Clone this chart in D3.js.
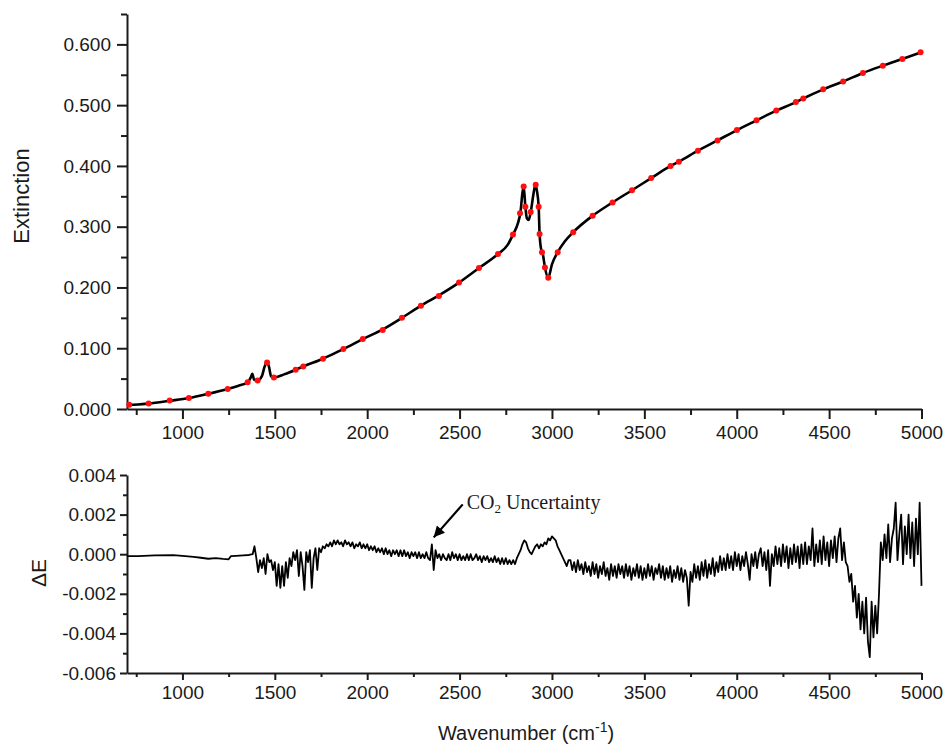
<!DOCTYPE html>
<html>
<head>
<meta charset="utf-8">
<script src="https://cdn.jsdelivr.net/npm/d3@7"></script>
<style>
  body { margin: 0; background: #fff; }
  svg text { font-family: 'Liberation Sans', Arial, sans-serif; fill: #1a1a1a; }
</style>
</head>
<body>
<svg id="chart"></svg>
<script>
// Extinction curve (top panel)
const extWave = [700, 760, 817, 931, 1035, 1140, 1245, 1300, 1353, 1370, 1378, 1388, 1407, 1430, 1445, 1458, 1468, 1480, 1495,
  1550, 1613, 1654, 1761, 1871, 1976, 2084, 2188, 2291, 2388, 2497, 2605, 2708, 2760, 2789, 2815, 2830, 2840, 2847, 2856,
  2864, 2874, 2885, 2898, 2910, 2918, 2928, 2933, 2942, 2950, 2962, 2980, 3000, 3031, 3070, 3115, 3220, 3328, 3433, 3537,
  3642, 3687, 3790, 3896, 4001, 4107, 4214, 4320, 4360, 4468, 4576, 4683, 4791, 4896, 5000];
const extValue = [0.0070, 0.0075, 0.0090, 0.0135, 0.0180, 0.0250, 0.0330, 0.0380, 0.0440, 0.0520, 0.0580, 0.0480, 0.0470,
  0.0540, 0.0700, 0.0770, 0.0700, 0.0540, 0.0520, 0.0570, 0.0646, 0.0700, 0.0827, 0.0987, 0.1150, 0.1310, 0.1500, 0.1700,
  0.1870, 0.2080, 0.2320, 0.2550, 0.2700, 0.2870, 0.3050, 0.3250, 0.3550, 0.3660, 0.3330, 0.3140, 0.3110, 0.3240, 0.3500,
  0.3690, 0.3600, 0.3330, 0.2880, 0.2620, 0.2560, 0.2330, 0.2160, 0.2380, 0.2580, 0.2760, 0.2910, 0.3180, 0.3400, 0.3600,
  0.3800, 0.4000, 0.4070, 0.4250, 0.4420, 0.4590, 0.4750, 0.4910, 0.5050, 0.5110, 0.5260, 0.5390, 0.5530, 0.5650, 0.5760,
  0.5870];

// Red sample points on the curve
const markerWave = [712, 817, 931, 1035, 1140, 1245, 1353, 1407, 1458, 1495, 1613, 1654, 1761, 1871, 1976, 2084, 2188,
  2291, 2388, 2497, 2605, 2708, 2789, 2827, 2847, 2856, 2885, 2912, 2928, 2933, 2946, 2962, 2980, 3031, 3115, 3220, 3328,
  3433, 3537, 3642, 3687, 3790, 3896, 4001, 4107, 4214, 4320, 4360, 4468, 4576, 4683, 4791, 4896, 4995];
const markerValue = [0.0071, 0.0092, 0.0140, 0.0180, 0.0250, 0.0330, 0.0440, 0.0470, 0.0767, 0.0520, 0.0646, 0.0700,
  0.0827, 0.0987, 0.1150, 0.1300, 0.1500, 0.1700, 0.1860, 0.2080, 0.2320, 0.2550, 0.2870, 0.3220, 0.3660, 0.3330, 0.3240,
  0.3690, 0.3330, 0.2880, 0.2580, 0.2330, 0.2160, 0.2580, 0.2910, 0.3180, 0.3400, 0.3600, 0.3800, 0.4000, 0.4070, 0.4250,
  0.4420, 0.4590, 0.4750, 0.4910, 0.5050, 0.5110, 0.5260, 0.5390, 0.5530, 0.5650, 0.5760, 0.5870];

// Residual (bottom panel), values in units of 1e-4
const resHeadWave = [700, 760, 850, 950, 1000, 1060, 1100, 1140, 1180, 1220, 1250, 1262, 1290, 1330, 1360, 1380, 1390];
const resHeadValue = [-1, -1, -0.6, -0.5, -0.8, -1.3, -1.8, -2.3, -2.0, -2.4, -2.6, -1.0, -0.8, -0.6, -0.4, 0, 4];
// from 1400 cm-1 on the spectrum is sampled every 10 cm-1, one row per 100 cm-1
const resGridStart = 1400;
const resGridStep = 10;
const resGridValue = [
  -2, -9, -3, -7, -2, -10, 0, -4, -3, -8,
  -4, -16, -5, -17, -6, -16, -4, -12, -2, -6,
  1, -3, 2, -11, 1, -6, -18, 1, -4, 2,
  -17, -2, 3, -8, 3, 1, 4, 3, 5, 4,
  6, 4, 7, 5, 7, 5, 6, 4, 7, 5,
  6, 4, 6, 3, 5, 4, 6, 3, 5, 3,
  5, 2, 4, 2, 4, 1, 3, 1, 3, 0,
  3, 0, 2, -1, 2, 0, 2, -1, 2, -1,
  2, -1, 1, -2, 1, -1, 1, -2, 1, -2,
  0, -2, 1, -2, -3, 5, -8, 2, -2, 0,
  -3, 0, -2, -3, 0, -3, 1, -2, 0, -3,
  0, -3, -1, -3, 0, -3, 0, -3, -2, 0,
  -3, -1, -4, -1, -3, -1, -4, -2, -4, -1,
  -4, -2, -5, -2, -5, -2, -5, -3, -5, -3,
  -5, -2, 0, 2, 5, 7, 6, 3, 1, 0,
  2, 4, 5, 3, 5, 4, 6, 5, 8, 7,
  9, 8, 7, 4, 2, 0, -2, -4, -6, -3,
  -3, -8, -4, -9, -3, -8, -5, -10, -4, -9,
  -6, -11, -4, -10, -5, -12, -6, -10, -4, -11,
  -7, -13, -5, -11, -6, -12, -5, -10, -6, -12,
  -5, -11, -6, -13, -7, -11, -5, -12, -6, -13,
  -7, -12, -5, -11, -6, -13, -7, -10, -5, -12,
  -6, -13, -7, -12, -6, -14, -8, -12, -6, -13,
  -7, -14, -8, -12, -26, -9, -14, -5, -12, -6,
  -13, -4, -11, -3, -12, -5, -10, -2, -11, -4,
  -9, -1, -8, -2, -8, 0, -7, -1, -8, 1,
  -6, 0, -8, -1, -6, 1, -5, -13, 0, -6,
  1, -7, 0, 3, -6, 1, -8, 2, -16, 0,
  -6, 4, -5, 3, -6, 5, -4, 4, -7, 3,
  -5, 5, -4, 4, -7, 5, -5, 6, -5, 4,
  -3, 13, -6, 5, -4, 7, -5, 9, -3, 6,
  -6, 7, -2, 9, -4, 8, 13, -3, 6, -4,
  -6, -14, -10, -24, -16, -32, -20, -38, -24, -40,
  -22, -44, -52, -24, -42, -26, -40, -20, 6, -3,
  10, -2, 15, -4, 8, 13, 26, -3, 10, 20,
  -5, 14, 0, 20, -2, 16, -6, 18, 0, 26,
  -16
];

// Axis ticks
const xMajorTicks = [1000, 1500, 2000, 2500, 3000, 3500, 4000, 4500, 5000];
const xMinorTicks = [750, 1250, 1750, 2250, 2750, 3250, 3750, 4250, 4750];
const topMajorTicks = [0, 0.1, 0.2, 0.3, 0.4, 0.5, 0.6];
const topMinorTicks = [0.05, 0.15, 0.25, 0.35, 0.45, 0.55, 0.65];
const bottomMajorTicks = [-0.006, -0.004, -0.002, 0, 0.002, 0.004];
const bottomMinorTicks = [-0.005, -0.003, -0.001, 0.001, 0.003];

const width = 948, height = 744;
const left = 127, right = 921.5;

const svg = d3.select('#chart')
    .attr('width', width)
    .attr('height', height);

const x = d3.scaleLinear().domain([700, 5000]).range([left, right]);
const yTop = d3.scaleLinear().domain([0, 0.65]).range([409, 14]);
const yBot = d3.scaleLinear().domain([-0.006, 0.004]).range([673, 475]);

const fmt = d => d.toFixed(3).replace('-0.000', '0.000');

// draws one panel's left + bottom axes (major and minor ticks)
function drawAxes(y, majors, minors, opt) {
  const yBase = y.range()[0];

  const gx = svg.append('g')
      .attr('transform', `translate(0,${yBase})`)
      .call(d3.axisBottom(x).tickValues(xMajorTicks).tickSize(opt.major).tickSizeOuter(0)
        .tickPadding(opt.xPad).tickFormat(d3.format('d')));
  const gxm = svg.append('g')
      .attr('transform', `translate(0,${yBase})`)
      .call(d3.axisBottom(x).tickValues(xMinorTicks).tickSize(opt.minor).tickFormat(''));
  gxm.select('.domain').remove();

  const gy = svg.append('g')
      .attr('transform', `translate(${left},0)`)
      .call(d3.axisLeft(y).tickValues(majors).tickSize(opt.major).tickSizeOuter(0)
        .tickPadding(opt.yPad).tickFormat(fmt));
  const gym = svg.append('g')
      .attr('transform', `translate(${left},0)`)
      .call(d3.axisLeft(y).tickValues(minors).tickSize(opt.minor).tickFormat(''));
  gym.select('.domain').remove();

  [gx, gxm, gy, gym].forEach(g => {
    g.selectAll('path, line')
        .attr('stroke', '#1a1a1a')
        .attr('stroke-width', 2);
    g.selectAll('text')
        .attr('fill', '#1a1a1a')
        .style('font-size', '19px')
        .style('font-family', "'Liberation Sans', Arial, sans-serif");
  });
}

drawAxes(yTop, topMajorTicks, topMinorTicks, { major: 10, minor: 6, xPad: 7, yPad: 6 });
drawAxes(yBot, bottomMajorTicks, bottomMinorTicks, { major: 7, minor: 4, xPad: 6, yPad: 4 });

// top: extinction curve + red sample points
const extData = extWave.map((w, i) => ({ w: w, v: extValue[i] }));
const markerData = markerWave.map((w, i) => ({ w: w, v: markerValue[i] }));

svg.append('path')
    .datum(extData)
    .attr('fill', 'none')
    .attr('stroke', '#000')
    .attr('stroke-width', 2.6)
    .attr('stroke-linejoin', 'round')
    .attr('d', d3.line().x(d => x(d.w)).y(d => yTop(d.v)).curve(d3.curveMonotoneX));

svg.selectAll('.marker')
    .data(markerData)
  .join('circle')
    .attr('class', 'marker')
    .attr('cx', d => x(d.w))
    .attr('cy', d => yTop(d.v))
    .attr('r', 3)
    .attr('fill', '#ff1010');

// bottom: residual
const resData = resHeadWave.map((w, i) => ({ w: w, v: resHeadValue[i] * 1e-4 }))
    .concat(resGridValue.map((v, i) => ({ w: resGridStart + i * resGridStep, v: v * 1e-4 })));

svg.append('path')
    .datum(resData)
    .attr('fill', 'none')
    .attr('stroke', '#000')
    .attr('stroke-width', 1.8)
    .attr('stroke-linejoin', 'round')
    .attr('d', d3.line().x(d => x(d.w)).y(d => yBot(d.v)));

// axis titles
svg.append('text')
    .attr('transform', 'translate(29,196) rotate(-90)')
    .attr('text-anchor', 'middle')
    .style('font-size', '22px')
    .text('Extinction');

svg.append('text')
    .attr('transform', 'translate(46,573) rotate(-90)')
    .attr('text-anchor', 'middle')
    .style('font-size', '21px')
    .text('\u0394E');

const xTitle = svg.append('text')
    .attr('x', 526)
    .attr('y', 740)
    .attr('text-anchor', 'middle')
    .style('font-size', '20px');
xTitle.append('tspan').text('Wavenumber (cm');
xTitle.append('tspan').attr('dy', -8).style('font-size', '14px').text('-1');
xTitle.append('tspan').attr('dy', 8).text(')');

// CO2 annotation
svg.append('defs').append('marker')
    .attr('id', 'arrowhead')
    .attr('viewBox', '0 0 10 10')
    .attr('refX', 10)
    .attr('refY', 5)
    .attr('markerWidth', 6)
    .attr('markerHeight', 5)
    .attr('markerUnits', 'strokeWidth')
    .attr('orient', 'auto')
  .append('path')
    .attr('d', 'M0,0 L10,5 L0,10 z')
    .attr('fill', '#000');

const tipX = x(2360), tipY = yBot(0.00085);
svg.append('line')
    .attr('x1', tipX + 29)
    .attr('y1', tipY - 33)
    .attr('x2', tipX)
    .attr('y2', tipY)
    .attr('stroke', '#000')
    .attr('stroke-width', 2.2)
    .attr('marker-end', 'url(#arrowhead)');

const note = svg.append('text')
    .attr('x', tipX + 33)
    .attr('y', 509)
    .style('font-family', "'Liberation Serif', 'Times New Roman', serif")
    .style('font-size', '20px')
    .attr('fill', '#000');
note.append('tspan').text('CO');
note.append('tspan').attr('dy', 4).style('font-size', '13px').text('2');
note.append('tspan').attr('dy', -4).text(' Uncertainty');
</script>
</body>
</html>
